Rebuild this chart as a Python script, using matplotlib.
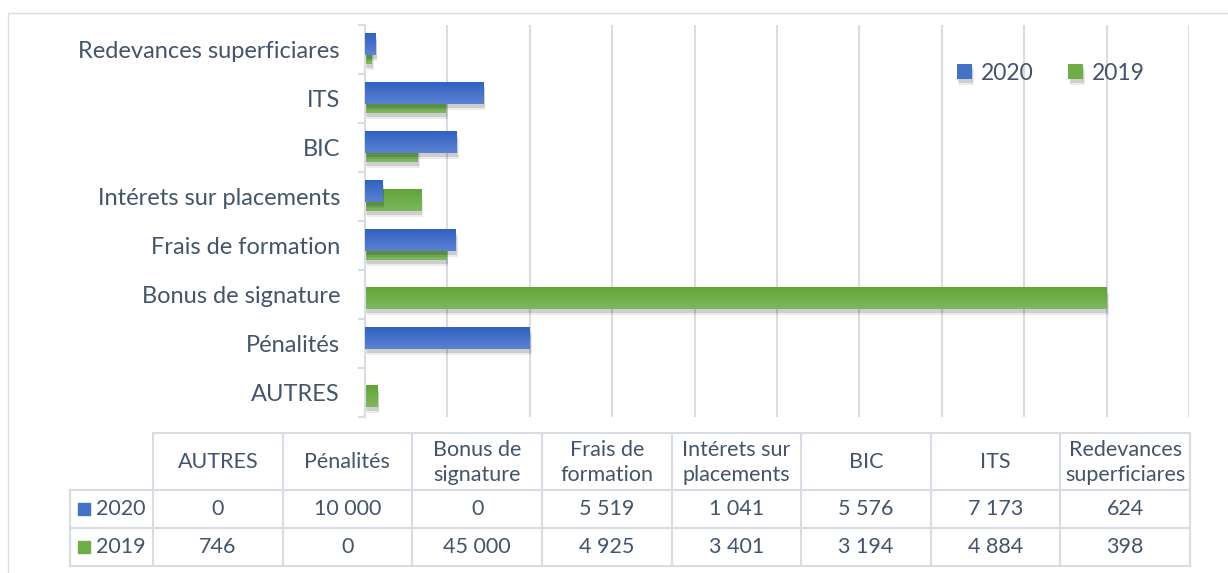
import numpy as np
import matplotlib
matplotlib.use("Agg")
import matplotlib.pyplot as plt
import matplotlib.patheffects as pe
from matplotlib.patches import Rectangle
from matplotlib.colors import LinearSegmentedColormap

# data (bottom -> top in the bar chart, left -> right in the table)
categories = ["AUTRES", "Pénalités", "Bonus de signature", "Frais de formation",
              "Intérets sur placements", "BIC", "ITS", "Redevances superficiares"]
table_headers = ["AUTRES", "Pénalités", "Bonus de\nsignature", "Frais de\nformation",
                 "Intérets sur\nplacements", "BIC", "ITS", "Redevances\nsuperficiares"]
values_2020 = [0, 10000, 0, 5519, 1041, 5576, 7173, 624]
values_2019 = [746, 0, 45000, 4925, 3401, 3194, 4884, 398]
series_labels = ["2020", "2019"]

BLUE = "#4472C4"
GREEN = "#70AD47"
TEXT = "#44546A"
GRID = "#D9DDE3"

plt.rcParams['font.family'] = ['Lato', 'DejaVu Sans']

W, H = 1228, 573
fig = plt.figure(figsize=(W / 100, H / 100), dpi=100)

# background layer in pixel coords (frame + data table)
bg = fig.add_axes([0, 0, 1, 1])
bg.set_xlim(0, W)
bg.set_ylim(H, 0)
bg.axis('off')
bg.add_patch(Rectangle((8, 13), W + 20, H + 20, fill=False, ec=GRID, lw=1))

# bar chart
ax = fig.add_axes([365 / W, 1 - 417 / H, (1189 - 365) / W, (417 - 25) / H])
y = np.arange(len(categories))
shadow = [pe.SimplePatchShadow(offset=(1.5, -4), shadow_rgbFace='k', alpha=0.08),
          pe.SimplePatchShadow(offset=(1, -2.5), shadow_rgbFace='k', alpha=0.12),
          pe.Normal()]
b19 = ax.barh(y - 0.085, values_2019, height=0.43, color=GREEN,
              path_effects=shadow, zorder=2)
b20 = ax.barh(y + 0.1, values_2020, height=0.43, color=BLUE,
              path_effects=shadow, zorder=3)

# vertical gradient on each bar (lighter top, darker bottom)
grad = np.linspace(0, 1, 64).reshape(-1, 1)
cm20 = LinearSegmentedColormap.from_list("b", ["#5B82D1", "#3062C1"])
cm19 = LinearSegmentedColormap.from_list("g", ["#7DB760", "#62A536"])
for bars, cm, z in [(b19, cm19, 2.5), (b20, cm20, 3.5)]:
    for r in bars:
        x0, y0, w, h = r.get_x(), r.get_y(), r.get_width(), r.get_height()
        if w > 0:
            ax.imshow(grad, extent=[x0, x0 + w, y0 + h, y0], origin='upper',
                      cmap=cm, aspect='auto', zorder=z, interpolation='bicubic')

ax.set_xlim(0, 50000)
ax.set_ylim(-0.5, len(categories) - 0.5)
ax.set_xticks(np.arange(0, 50001, 5000))
ax.xaxis.grid(True, color=GRID, lw=1.5, zorder=0)
ax.set_axisbelow(True)
ax.tick_params(axis='x', length=0, labelbottom=False)
ax.set_yticks(y)
ax.set_yticklabels(categories, fontsize=17, color=TEXT)
ax.set_yticks(np.arange(-0.5, len(categories), 1), minor=True)
ax.tick_params(axis='y', which='major', length=0, pad=18)
ax.tick_params(axis='y', which='minor', length=5, color=GRID, width=1.5)
for s in ['top', 'right', 'bottom']:
    ax.spines[s].set_visible(False)
ax.spines['left'].set_color(GRID)
ax.spines['left'].set_linewidth(1.5)

ax.legend([b20, b19], series_labels, ncol=2, frameon=False, loc='center',
          bbox_to_anchor=(1051 / W, 1 - 73 / H), bbox_transform=fig.transFigure,
          fontsize=16.5, labelcolor=TEXT, handlelength=0.65, handleheight=0.65,
          handletextpad=0.4, columnspacing=1.5)

# data table under the chart
col_left, col_w = 153, (1190 - 153) / len(categories)
lab_left = 70
row_y = [433, 490, 528, 566]
for i in range(len(categories) + 1):
    x = col_left + i * col_w
    bg.plot([x, x], [row_y[0], row_y[-1]], color=GRID, lw=1.5)
bg.plot([lab_left, lab_left], [row_y[1], row_y[-1]], color=GRID, lw=1.5)
bg.plot([col_left, col_left + len(categories) * col_w], [row_y[0]] * 2, color=GRID, lw=1.5)
for yy in row_y[1:]:
    bg.plot([lab_left, col_left + len(categories) * col_w], [yy, yy], color=GRID, lw=1.5)

for i, hdr in enumerate(table_headers):
    cx = col_left + (i + 0.5) * col_w
    bg.text(cx, (row_y[0] + row_y[1]) / 2 + 1, hdr, ha='center', va='center',
            fontsize=15.5, color=TEXT, linespacing=1.35)

for r, (lab, vals, col) in enumerate(zip(series_labels, [values_2020, values_2019], [BLUE, GREEN])):
    cy = (row_y[r + 1] + row_y[r + 2]) / 2
    bg.add_patch(Rectangle((78, cy - 6), 12, 12, color=col))
    bg.text(96, cy, lab, ha='left', va='center', fontsize=15.5, color=TEXT)
    for i, v in enumerate(vals):
        cx = col_left + (i + 0.5) * col_w
        bg.text(cx, cy, f"{v:,}".replace(",", " "), ha='center', va='center',
                fontsize=15.5, color=TEXT)

fig.savefig("out.png", dpi=100)
